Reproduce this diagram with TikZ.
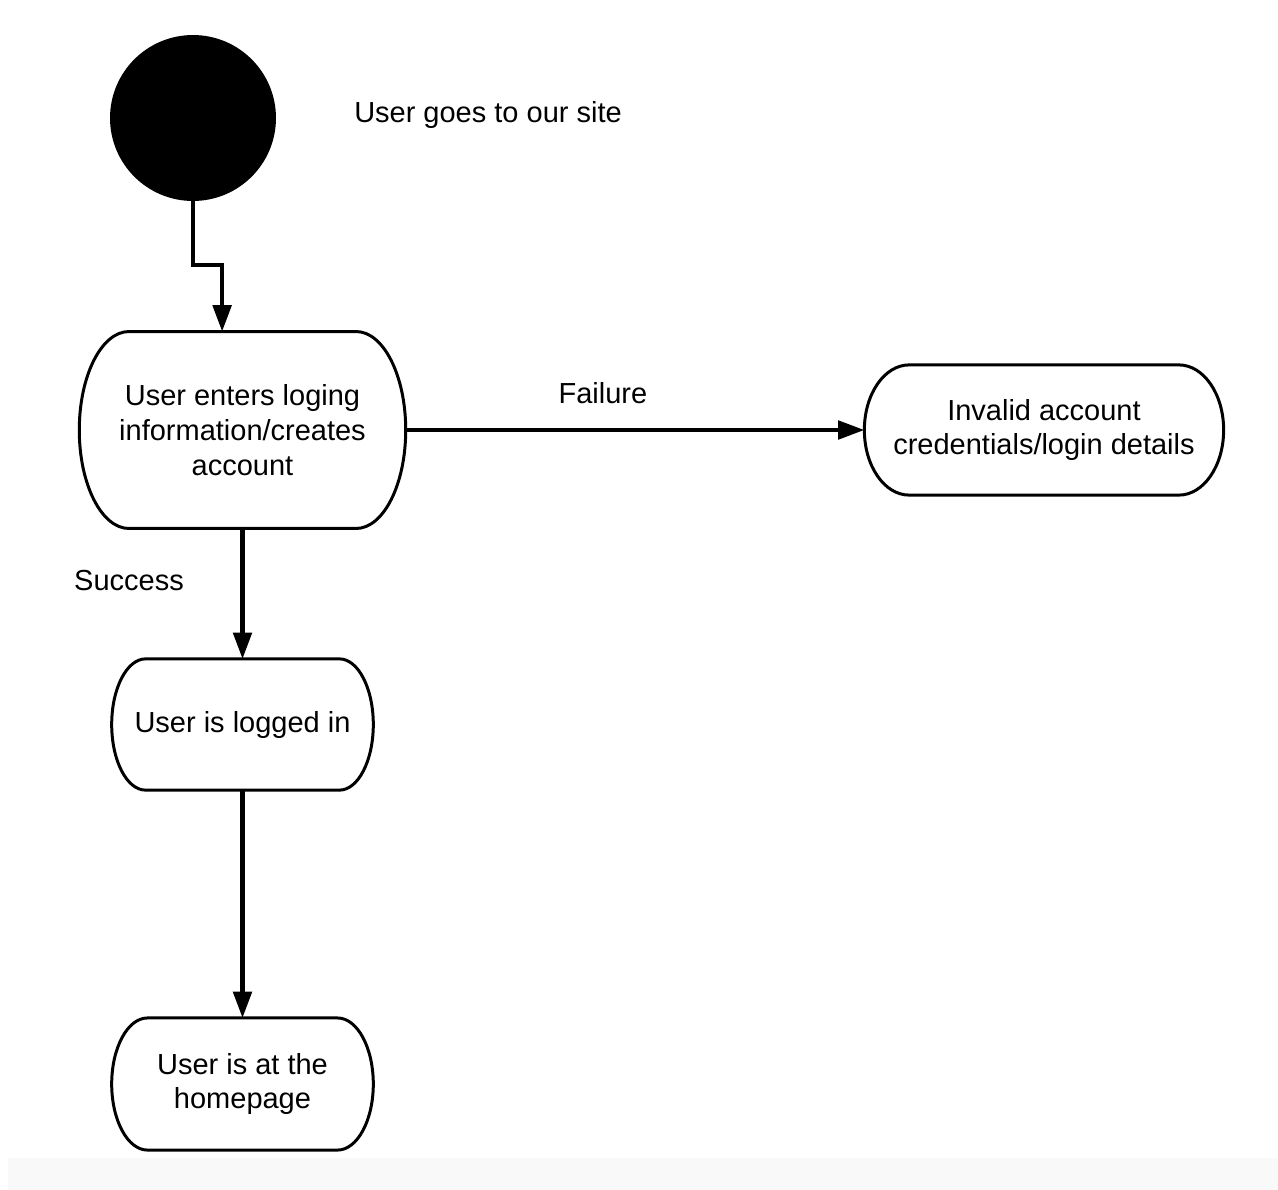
\documentclass[tikz,border=0pt]{standalone}
\usepackage{fontspec}
\setmainfont{Liberation Sans}
\usetikzlibrary{arrows.meta, calc, positioning}

% outline of an activity: flat top and bottom, half-ellipse ends
\newcommand{\activityoutline}[2]{%
    \draw [activity line] let \p1 = ($(#1.north)-(#1.south)$) in
        ([xshift=#2]#1.north west) -- ([xshift=-#2]#1.north east)
        arc [start angle=90, end angle=-90, x radius=#2, y radius=0.5*\y1]
        -- ([xshift=#2]#1.south west)
        arc [start angle=270, end angle=90, x radius=#2, y radius=0.5*\y1]
        -- cycle;
}

\begin{document}
\begin{tikzpicture}[x=0.02cm, y=-0.02cm,
        font=\fontsize{16.5pt}{19.8pt}\selectfont,
        flow/.style={line width=2.3pt, -{Triangle[length=15pt, width=10.5pt]}},
        activity line/.style={line width=1.7pt},
        activity/.style={inner sep=0pt, align=center}]

    \useasboundingbox (0,0) rectangle (1278,1190);
    \fill [black!2.5] (8,1158) rectangle (1278,1190);

    \node [circle, fill=black, minimum size=3.32cm, inner sep=0pt] (start) at (193,118) {};
    \node (sitelabel) at (488,115) {User goes to our site};

    \node [activity, minimum width=185.4pt, minimum height=111.7pt] (login) at (242.5,430) {User enters loging\\information/creates\\account};
    \node [activity, minimum width=204.1pt, minimum height=73.7pt] (invalid) at (1044,430) {Invalid account\\credentials/login details};
    \node [activity, minimum width=148.5pt, minimum height=74.3pt] (loggedin) at (242.5,724.5) {User is logged in};
    \node [activity, minimum width=148.5pt, minimum height=74.8pt] (homepage) at (242.5,1084) {User is at the\\homepage};

    \activityoutline{login}{28.3pt}
    \activityoutline{invalid}{25.5pt}
    \activityoutline{loggedin}{19.3pt}
    \activityoutline{homepage}{20.4pt}

    \coordinate (bend) at (193,265);
    \draw [flow] (start) -- (bend) -| ([xshift=-11.6pt]login.north);
    \draw [flow] (login.east) -- node [pos=0.43, yshift=21pt] {Failure} (invalid.west);
    \draw [flow] (login) -- node [pos=0.4, xshift=-64.6pt] {Success} (loggedin);
    \draw [flow] (loggedin) -- (homepage);
\end{tikzpicture}
\end{document}
